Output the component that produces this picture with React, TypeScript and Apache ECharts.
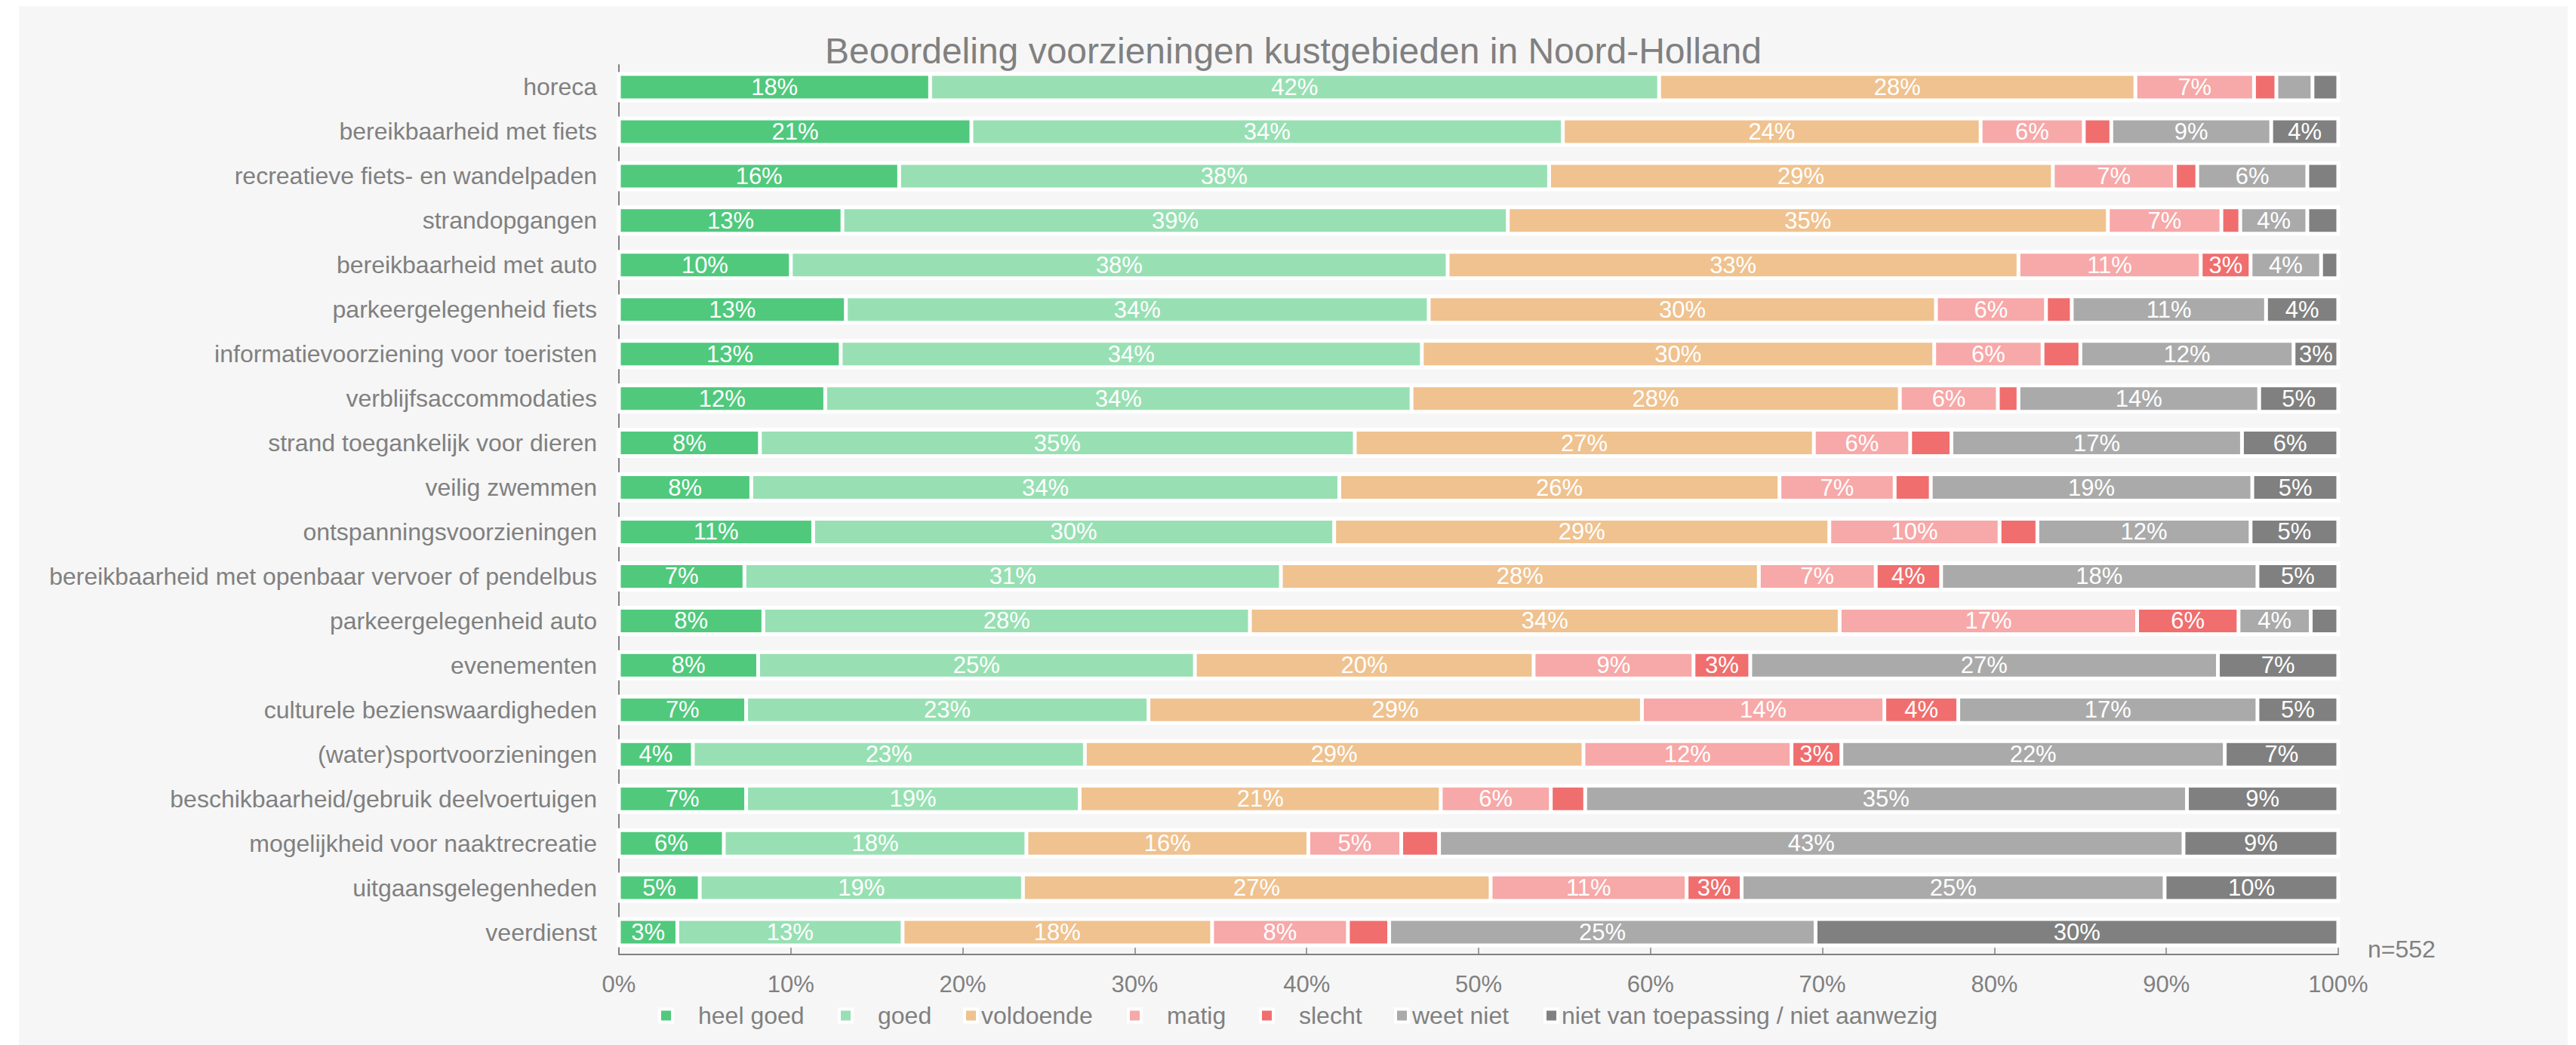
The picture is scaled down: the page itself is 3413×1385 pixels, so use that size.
import React, { useEffect, useRef } from "react";
import * as echarts from "echarts";

const categories = [
  "horeca",
  "bereikbaarheid met fiets",
  "recreatieve fiets- en wandelpaden",
  "strandopgangen",
  "bereikbaarheid met auto",
  "parkeergelegenheid fiets",
  "informatievoorziening voor toeristen",
  "verblijfsaccommodaties",
  "strand toegankelijk voor dieren",
  "veilig zwemmen",
  "ontspanningsvoorzieningen",
  "bereikbaarheid met openbaar vervoer of pendelbus",
  "parkeergelegenheid auto",
  "evenementen",
  "culturele bezienswaardigheden",
  "(water)sportvoorzieningen",
  "beschikbaarheid/gebruik deelvoertuigen",
  "mogelijkheid voor naaktrecreatie",
  "uitgaansgelegenheden",
  "veerdienst",
];

const heelGoed = [18.1, 20.5, 16.3, 13.0, 10.0, 13.2, 12.9, 12.0, 8.2, 7.7, 11.3, 7.3, 8.4, 8.1, 7.4, 4.3, 7.4, 6.1, 4.7, 3.4];
const goed = [42.4, 34.4, 37.8, 38.7, 38.2, 33.9, 33.8, 34.1, 34.6, 34.2, 30.3, 31.2, 28.3, 25.4, 23.4, 22.8, 19.4, 17.6, 18.8, 13.1];
const voldoende = [27.7, 24.3, 29.3, 34.9, 33.2, 29.5, 29.8, 28.4, 26.7, 25.6, 28.8, 27.8, 34.3, 19.7, 28.7, 29.0, 21.0, 16.4, 27.2, 18.0];
const matig = [6.9, 6.0, 7.1, 6.6, 10.6, 6.4, 6.3, 5.7, 5.6, 6.7, 9.9, 6.8, 17.3, 9.3, 14.1, 12.1, 6.4, 5.4, 11.4, 7.9];
const slecht = [1.3, 1.6, 1.3, 1.1, 2.9, 1.5, 2.2, 1.2, 2.4, 2.1, 2.2, 3.8, 5.9, 3.3, 4.3, 2.9, 2.0, 2.2, 3.2, 2.4];
const weetNiet = [2.1, 9.3, 6.4, 3.9, 4.1, 11.3, 12.4, 14.0, 16.9, 18.7, 12.4, 18.4, 4.2, 27.2, 17.4, 22.3, 35.0, 43.3, 24.6, 24.8];
const nietVan = [1.5, 3.9, 1.8, 1.8, 1.0, 4.2, 2.6, 4.6, 5.6, 5.0, 5.1, 4.7, 1.6, 7.0, 4.7, 6.6, 8.8, 9.0, 10.1, 30.4];

const seriesNames = [
  "heel goed",
  "goed",
  "voldoende",
  "matig",
  "slecht",
  "weet niet",
  "niet van toepassing / niet aanwezig",
];
const seriesData = [heelGoed, goed, voldoende, matig, slecht, weetNiet, nietVan];
const seriesColors = ["#50c97d", "#98e0b3", "#efc28f", "#f7a8a8", "#f06e6e", "#aaaaaa", "#808080"];

const xTicks = [0, 10, 20, 30, 40, 50, 60, 70, 80, 90, 100];
const title = "Beoordeling voorzieningen kustgebieden in Noord-Holland";
const note = "n=552";

// legend layout (positions only)
const legendLefts = [847, 1085, 1251, 1468, 1643, 1822, 2020];
const legendPads = [29, 29, 0, 29, 29, 0, 0];

const FONT = "'Liberation Sans', Arial, sans-serif";
const GREY = "#808080";

export default function App() {
  const ref = useRef<HTMLDivElement>(null);

  useEffect(() => {
    if (!ref.current) return;
    const chart = echarts.init(ref.current, null, { renderer: "svg" });

    const series = seriesNames.map((name, i) => ({
      name,
      type: "bar",
      stack: "total",
      barWidth: 35,
      data: seriesData[i],
      itemStyle: { color: seriesColors[i], borderColor: "#ffffff", borderWidth: 2.5 },
      showBackground: i === 0,
      backgroundStyle: { color: "#ffffff", borderColor: "#ffffff", borderWidth: 5 },
      label: {
        show: true,
        position: "inside",
        color: "#ffffff",
        fontSize: 31,
        fontFamily: FONT,
        formatter: (p: any) => (p.value >= 2.5 ? Math.round(p.value) + "%" : ""),
      },
      emphasis: { disabled: true },
    }));

    const legends = seriesNames.map((name, i) => ({
      show: true,
      data: [name],
      left: legendLefts[i],
      top: 1322,
      padding: 0,
      itemWidth: 17,
      itemHeight: 17,
      icon: "rect",
      itemStyle: { borderColor: "#ffffff", borderWidth: 4 },
      textStyle: { color: GREY, fontSize: 32, fontFamily: FONT, padding: [0, 0, 0, legendPads[i]] },
      selectedMode: false,
    }));

    chart.setOption({
      animation: false,
      backgroundColor: "#f6f6f6",
      textStyle: { fontFamily: FONT },
      title: {
        text: title,
        left: "center",
        top: 30,
        textStyle: { color: GREY, fontSize: 48, fontWeight: "normal", fontFamily: FONT },
      },
      legend: legends,
      grid: { left: 795, right: 304, top: 78, bottom: 120, containLabel: false },
      xAxis: {
        type: "value",
        min: xTicks[0],
        max: xTicks[xTicks.length - 1],
        interval: 10,
        axisLine: { show: true, lineStyle: { color: GREY, width: 2 } },
        axisTick: { show: true, inside: true, length: 9, lineStyle: { color: GREY, width: 1.5 } },
        splitLine: { show: false },
        axisLabel: { color: GREY, fontSize: 31, fontFamily: FONT, margin: 24, formatter: "{value}%" },
      },
      yAxis: {
        type: "category",
        inverse: true,
        data: categories,
        axisLine: { show: true, lineStyle: { color: GREY, width: 2 } },
        axisTick: { show: false },
        axisLabel: { color: GREY, fontSize: 32, fontFamily: FONT, margin: 29 },
      },
      graphic: [
        {
          type: "text",
          left: 3112,
          top: 1234,
          style: { text: note, fill: GREY, fontSize: 32, fontFamily: FONT },
        },
      ],
      series,
    });

    return () => chart.dispose();
  }, []);

  return (
    <div
      ref={ref}
      style={{ width: 3377, height: 1377, marginLeft: 17, background: "#f6f6f6" }}
    />
  );
}
